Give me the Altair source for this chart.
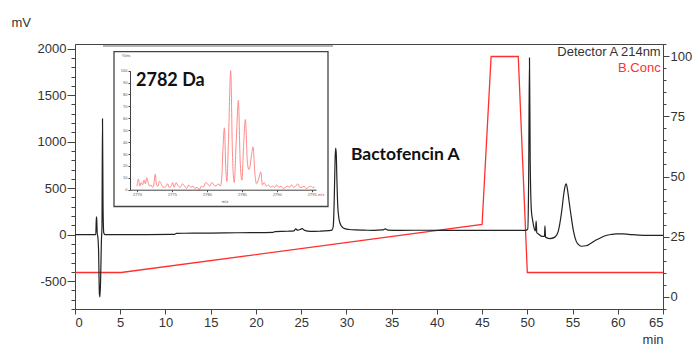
import altair as alt
import pandas as pd

# Detector A (214 nm) chromatogram: retention time (min) and signal (mV)
time_min = [0, 2.3, 2.36, 2.4, 2.46, 2.52, 2.6, 2.7, 2.76, 2.84, 2.92, 2.98, 3.04, 3.1, 3.18, 3.3,
            5, 8, 11.0, 11.2, 15, 18, 21.9, 22.1, 23.5, 24.2, 24.4, 24.6, 24.9, 25.1, 25.4, 26, 27, 28,
            28.4, 28.55, 28.65, 28.75, 28.81, 28.88, 28.95, 29.05, 29.2, 29.4, 29.6, 29.9, 30.3,
            31, 32, 33, 34, 34.3, 34.6, 36, 38, 40, 42, 44, 46, 48, 49.8,
            50.05, 50.15, 50.24, 50.32, 50.45, 50.6, 50.75, 50.9, 50.98, 51.05, 51.2, 51.6, 51.9,
            51.95, 52.02, 52.1, 52.5, 53.0, 53.4, 53.8, 54.05, 54.2, 54.3, 54.45, 54.6, 54.8, 55.1,
            55.4, 55.7, 56.0, 56.5, 57.0, 57.6, 58.2, 58.7, 59.3, 59.8, 60.5, 61.2, 62.3, 63.5, 65]
signal_mv = [0, 0, 190, 170, 10, -20, -150, -640, -670, -450, -60, 80, 1245, 300, 20, 0,
             0, 0, 2, 14, 16, 20, 24, 32, 36, 40, 62, 48, 55, 64, 45, 34, 36, 42,
             48, 90, 350, 800, 930, 870, 600, 300, 160, 100, 75, 62, 55,
             50, 48, 46, 50, 62, 48, 46, 47, 46, 45, 46, 46, 46, 46,
             60, 600, 1900, 800, 260, 150, 70, 40, 145, 20, 10, -18, -20,
             95, -28, -32, -43, -30, 30, 250, 450, 530, 545, 480, 370, 230, 40,
             -70, -110, -125, -120, -95, -58, -30, -10, 2, 8, 8, 3, -6, -8, -8]

# Solvent B gradient programme (%)
grad_time = [0, 5.1, 45, 46, 49, 50, 65]
grad_conc = [10, 10, 30, 100, 100, 10, 10]

# MS spectrum of the collected peak: m/z and relative intensity (%)
mz = [2770.0, 2770.2, 2770.4, 2770.6, 2770.8, 2771.0, 2771.2, 2771.4, 2771.6, 2771.8,
      2772.0, 2772.2, 2772.4, 2772.6, 2772.8, 2773.0, 2773.2, 2773.4, 2773.6, 2773.9,
      2774.2, 2774.4, 2774.6, 2774.9, 2775.1, 2775.3, 2775.6, 2775.9, 2776.2, 2776.5,
      2776.8, 2777.1, 2777.4, 2777.7, 2778.0, 2778.3, 2778.6, 2778.9, 2779.2, 2779.5,
      2779.8, 2780.1, 2780.4, 2780.7, 2781.0, 2781.3, 2781.6, 2781.9, 2782.1, 2782.3,
      2782.5, 2782.7, 2782.85, 2783.1, 2783.4, 2783.65, 2783.9, 2784.2, 2784.5, 2784.75,
      2785.0, 2785.25, 2785.5, 2785.8, 2786.0, 2786.15, 2786.35, 2786.6, 2786.85, 2787.1,
      2787.4, 2787.7, 2787.95, 2788.2, 2788.5, 2788.8, 2789.1, 2789.4, 2789.7, 2790.0,
      2790.3, 2790.6, 2790.9, 2791.2, 2791.5, 2791.8, 2792.1, 2792.4, 2792.7, 2793.0,
      2793.3, 2793.6, 2793.9, 2794.2, 2794.5, 2794.8, 2795.1, 2795.4]
intensity = [3, 9, 3, 6, 4, 8, 5, 10, 6, 3,
             4, 2, 4, 13, 4, 3, 7, 6, 3, 2,
             3, 5, 2, 3, 6, 2, 6, 3, 2, 5,
             3, 1, 4, 2, 3, 1, 2, 0, 3, 2,
             6, 5, 3, 6, 4, 3, 5, 3, 8, 35,
             52, 18, 7, 45, 100, 30, 6, 42, 75, 25,
             8, 38, 59, 22, 17, 19, 28, 36, 14, 5,
             9, 15, 4, 6, 3, 4, 2, 3, 2, 4,
             2, 3, 1, 2, 3, 2, 4, 2, 3, 5,
             2, 2, 3, 1, 2, 3, 2, 2]

# Axis tick values
x_ticks = list(range(0, 66, 5))
mv_ticks = [-500, 0, 500, 1000, 1500, 2000]
mv_minor = list(range(-800, 2001, 100))
conc_ticks = [0, 25, 50, 75, 100]
conc_minor = list(range(-5, 106, 5))
ms_x_ticks = [2770, 2775, 2780, 2785, 2790, 2795]
ms_y_ticks = list(range(0, 101, 10))

W, H = 588, 265
BLACK = "#222222"
RED = "#ff3030"
PINK = "#ff8a8a"
TXT = "#333333"
PLAIN = "'' + datum.value"   # plain integers with an ASCII hyphen for negatives

chrom = pd.DataFrame({"t": time_min, "mv": signal_mv})
grad = pd.DataFrame({"t": grad_time, "b": grad_conc})
spec = pd.DataFrame({"mz": mz, "inten": intensity})
one = pd.DataFrame({"k": [0]})

x_time = alt.Scale(domain=[0, 65], nice=False, zero=False)
y_mv = alt.Scale(domain=[-800, 2050], nice=False, zero=False)
y_b = alt.Scale(domain=[-5.2, 105.2], nice=False, zero=False)
x_mz = alt.Scale(domain=[2769, 2795.6], range=[55, 241], nice=False, zero=False)
y_int = alt.Scale(domain=[0, 100], range=[145.7, 26.7], nice=False, zero=False)

# grey strip along the top edge and the white inset panel
top_strip = alt.Chart(one).mark_rule(color="#b4b4b4", strokeWidth=2).encode(
    x=alt.value(28), x2=alt.value(258), y=alt.value(2), y2=alt.value(2))
inset_box = alt.Chart(one).mark_rect(fill="white", stroke="#444444", strokeWidth=1.3).encode(
    x=alt.value(39), x2=alt.value(253), y=alt.value(7.7), y2=alt.value(162.5))

# chromatogram trace with the main time and mV axes
trace = alt.Chart(chrom).mark_line(color=BLACK, strokeWidth=1.2, interpolate="monotone").encode(
    x=alt.X("t:Q", scale=x_time,
            axis=alt.Axis(orient="bottom", values=x_ticks, tickSize=5, labelPadding=2,
                          labelExpr=PLAIN, title="min", titleX=W, titleY=30,
                          titleAlign="right", titleBaseline="middle")),
    y=alt.Y("mv:Q", scale=y_mv,
            axis=alt.Axis(orient="left", values=mv_ticks, tickSize=8, labelPadding=1,
                          labelExpr=PLAIN, title="mV", titleAngle=0, titleX=-64, titleY=-22,
                          titleAlign="left", titleBaseline="middle")),
)
mv_minor_ticks = alt.Chart(chrom).mark_line(strokeOpacity=0).encode(
    x=alt.X("t:Q", scale=x_time, axis=None),
    y=alt.Y("mv:Q", scale=y_mv,
            axis=alt.Axis(orient="left", values=mv_minor, tickSize=4, labels=False,
                          domain=False, title=None)),
)

# gradient trace with the right-hand %B axis
gradient = alt.Chart(grad).mark_line(color=RED, strokeWidth=1.3).encode(
    x=alt.X("t:Q", scale=x_time, axis=None),
    y=alt.Y("b:Q", scale=y_b,
            axis=alt.Axis(orient="right", values=conc_ticks, tickSize=6, labelPadding=1,
                          labelExpr=PLAIN, title=None)),
)
b_minor_ticks = alt.Chart(grad).mark_line(strokeOpacity=0).encode(
    x=alt.X("t:Q", scale=x_time, axis=None),
    y=alt.Y("b:Q", scale=y_b,
            axis=alt.Axis(orient="right", values=conc_minor, tickSize=3, labels=False,
                          domain=False, title=None)),
)

peak_label = alt.Chart(pd.DataFrame({"t": [30.5], "mv": [860], "label": ["Bactofencin A"]})).mark_text(
    font="Lato", fontWeight="bold", fontSize=17.5, align="left", baseline="middle", color="#111111"
).encode(
    x=alt.X("t:Q", scale=x_time, axis=None),
    y=alt.Y("mv:Q", scale=y_mv, axis=None),
    text="label:N",
)

# MS spectrum inset, its axes drawn above the white panel
tiny_axis = dict(labelFontSize=4, labelColor="#555555", tickSize=2, labelPadding=1,
                 domainColor="#444444", tickColor="#444444", title=None, zindex=2,
                 labelExpr=PLAIN)
spectrum = alt.Chart(spec).mark_line(color=PINK, strokeWidth=1, interpolate="monotone").encode(
    x=alt.X("mz:Q", scale=x_mz,
            axis=alt.Axis(orient="bottom", offset=-(H - 145.7), values=ms_x_ticks, **tiny_axis)),
    y=alt.Y("inten:Q", scale=y_int,
            axis=alt.Axis(orient="left", offset=-55, values=ms_y_ticks, **tiny_axis)),
)
mass_label = alt.Chart(pd.DataFrame({"mz": [2769.86], "inten": [91.6], "label": ["2782 Da"]})).mark_text(
    font="Lato", fontWeight="bold", fontSize=18, align="left", baseline="middle", color="#111111"
).encode(
    x=alt.X("mz:Q", scale=x_mz, axis=None),
    y=alt.Y("inten:Q", scale=y_int, axis=None),
    text="label:N",
)
ms_ylab = alt.Chart(one).mark_text(text="%Int.", fontSize=4, color="#555555", align="left").encode(
    x=alt.value(47), y=alt.value(12))
ms_xlab = alt.Chart(one).mark_text(text="m/z", fontSize=4, color="#555555").encode(
    x=alt.value(150), y=alt.value(158))
ms_xlab_red = alt.Chart(one).mark_text(text="m/z", fontSize=4, color=RED, align="left").encode(
    x=alt.value(243), y=alt.value(151))

# trace legend, top right
leg_det = alt.Chart(one).mark_text(text="Detector A 214nm", font="Liberation Sans", fontSize=13,
                                   color=TXT, align="right", baseline="middle").encode(
    x=alt.value(585.7), y=alt.value(7.7))
leg_b = alt.Chart(one).mark_text(text="B.Conc", font="Liberation Sans", fontSize=13,
                                 color=RED, align="right", baseline="middle").encode(
    x=alt.value(585.7), y=alt.value(23.7))

chart = alt.layer(
    top_strip, inset_box, mv_minor_ticks, b_minor_ticks, gradient, trace, peak_label,
    spectrum, mass_label, ms_ylab, ms_xlab, ms_xlab_red, leg_det, leg_b,
).resolve_scale(
    x="independent", y="independent"
).properties(
    width=W, height=H,
    autosize=alt.AutoSizeParams(type="none"),
    padding={"left": 75, "top": 44, "right": 30, "bottom": 36},
    background="white",
).configure_view(
    stroke="#444444", strokeWidth=1
).configure_axis(
    grid=False, labelFont="Liberation Sans", labelFontSize=13, labelColor=TXT,
    titleFont="Liberation Sans", titleFontSize=13, titleColor=TXT, titleFontWeight="normal",
    domainColor="#444444", tickColor="#444444",
)

chart.save("out.html", embed_options={"renderer": "svg", "actions": False})
